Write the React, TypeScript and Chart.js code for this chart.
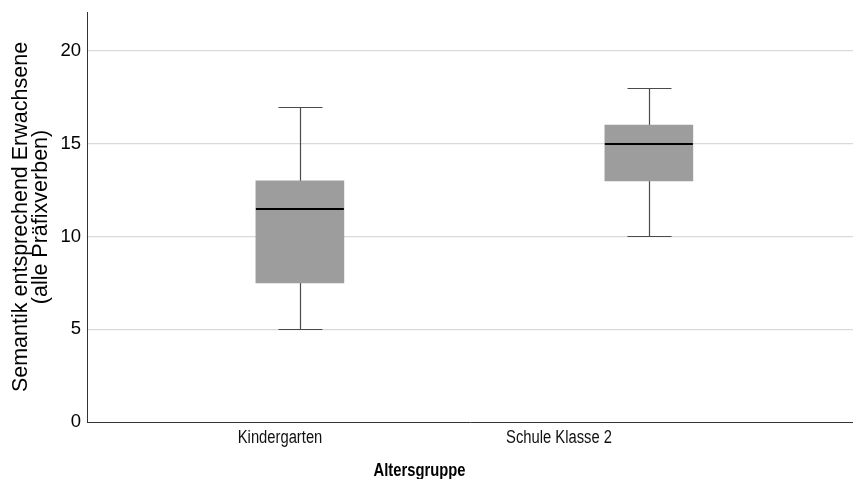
import React, { useEffect, useRef } from "react";
import { Chart, registerables } from "chart.js";

Chart.register(...registerables);

const categories = ["Kindergarten", "Schule Klasse 2"];
const whiskerLow = [5, 10];
const q1 = [7.5, 13];
const median = [11.5, 15];
const q3 = [13, 16];
const whiskerHigh = [17, 18];
const yTicks = [0, 5, 10, 15, 20];
const yTitle = ["Semantik entsprechend Erwachsene", "(alle Präfixverben)"];
const xTitle = "Altersgruppe";

const SANS = '"Liberation Sans", Arial, sans-serif';
const NARROW_SCALE = 0.82;

function narrowText(ctx: any, text: string, x: number, y: number, font: string) {
  ctx.save();
  ctx.font = font;
  ctx.textAlign = "center";
  ctx.textBaseline = "alphabetic";
  ctx.translate(x, y);
  ctx.scale(NARROW_SCALE, 1);
  ctx.fillText(text, 0, 0);
  ctx.restore();
}

const boxPlugin = {
  id: "boxParts",
  beforeDatasetsDraw(chart: any) {
    const ctx = chart.ctx;
    const xb = chart.scales.xb;
    const y = chart.scales.y;
    ctx.save();
    categories.forEach((_, i) => {
      const px = Math.round(xb.getPixelForValue(i + 1)) + 0.5;
      const capHalf = xb.getPixelForValue(i + 1 + 0.063) - xb.getPixelForValue(i + 1);
      const yl = Math.round(y.getPixelForValue(whiskerLow[i])) + 0.5;
      const yh = Math.round(y.getPixelForValue(whiskerHigh[i])) + 0.5;
      ctx.strokeStyle = "#4a4a4a";
      ctx.lineWidth = 1.2;
      ctx.beginPath();
      ctx.moveTo(px, yl);
      ctx.lineTo(px, yh);
      ctx.moveTo(px - capHalf, yl);
      ctx.lineTo(px + capHalf, yl);
      ctx.moveTo(px - capHalf, yh);
      ctx.lineTo(px + capHalf, yh);
      ctx.stroke();
    });
    ctx.restore();
  },
  afterDatasetsDraw(chart: any) {
    const ctx = chart.ctx;
    const y = chart.scales.y;
    const meta = chart.getDatasetMeta(0);
    ctx.save();
    categories.forEach((_, i) => {
      const el = meta.data[i];
      const half = el.width / 2;
      const ym = Math.round(y.getPixelForValue(median[i]));
      ctx.strokeStyle = "#000";
      ctx.lineWidth = 2;
      ctx.beginPath();
      ctx.moveTo(el.x - half, ym);
      ctx.lineTo(el.x + half, ym);
      ctx.stroke();
    });
    ctx.restore();
  },
  afterDraw(chart: any) {
    const ctx = chart.ctx;
    const area = chart.chartArea;
    const xs = chart.scales.x;
    ctx.save();
    ctx.fillStyle = "#000";
    ctx.font = `21.5px ${SANS}`;
    ctx.textAlign = "center";
    ctx.textBaseline = "alphabetic";
    const yc = (area.top + area.bottom) / 2;
    const baselines = [26.7, 47];
    yTitle.forEach((line, k) => {
      ctx.save();
      ctx.translate(baselines[k], yc);
      ctx.rotate(-Math.PI / 2);
      ctx.fillText(line, 0, 0);
      ctx.restore();
    });
    ctx.fillStyle = "#111";
    categories.forEach((c, i) => {
      narrowText(ctx, c, xs.getPixelForValue(i + 1), 443, `18px ${SANS}`);
    });
    ctx.fillStyle = "#000";
    narrowText(ctx, xTitle, xs.getPixelForValue((1 + categories.length) / 2), 476, `bold 18px ${SANS}`);
    ctx.restore();
  },
};

export default function App() {
  const ref = useRef<HTMLCanvasElement>(null);
  useEffect(() => {
    if (!ref.current) return;
    const chart = new Chart(ref.current, {
      type: "bar",
      data: {
        datasets: [
          {
            data: categories.map((_, i) => ({ x: i + 1, y: [q1[i], q3[i]] })) as any,
            backgroundColor: "#9d9d9d",
            borderWidth: 0,
            barThickness: 88,
            xAxisID: "xb",
            yAxisID: "y",
          },
        ],
      },
      options: {
        animation: false,
        responsive: true,
        maintainAspectRatio: false,
        layout: { padding: { top: 12, right: 0, left: 0, bottom: 0 } },
        plugins: { legend: { display: false }, tooltip: { enabled: false } },
        scales: {
          xb: {
            type: "linear",
            display: false,
            offset: false,
            min: 0.39,
            max: 2.585,
          },
          x: {
            type: "linear",
            position: "bottom",
            offset: false,
            min: 0.308,
            max: 3.054,
            afterBuildTicks: (s: any) => {
              s.ticks = categories.map((_, i) => ({ value: i + 1 }));
            },
            afterFit: (s: any) => {
              s.height = 57;
              s.paddingLeft = 0;
              s.paddingRight = 0;
            },
            ticks: { display: false },
            grid: { display: false, drawTicks: false, offset: false },
            border: { display: true, color: "#333", width: 1 },
          },
          y: {
            type: "linear",
            min: 0,
            max: 22.1,
            afterBuildTicks: (s: any) => {
              s.ticks = yTicks.map((v) => ({ value: v }));
            },
            afterFit: (s: any) => {
              s.width = 87;
              s.paddingTop = 0;
              s.paddingBottom = 0;
            },
            ticks: {
              font: { family: SANS, size: 18.5 },
              color: "#000",
              padding: 6,
            },
            grid: {
              drawTicks: false,
              color: (c: any) => (c.tick && c.tick.value === 0 ? "rgba(0,0,0,0)" : "#d9d9d9"),
              lineWidth: 1.2,
            },
            border: { display: true, color: "#333", width: 1 },
          },
        },
      },
      plugins: [boxPlugin],
    });
    return () => chart.destroy();
  }, []);
  return (
    <div style={{ position: "fixed", left: 0, top: 0, width: 853, height: 479, background: "#fff" }}>
      <canvas ref={ref} />
    </div>
  );
}
